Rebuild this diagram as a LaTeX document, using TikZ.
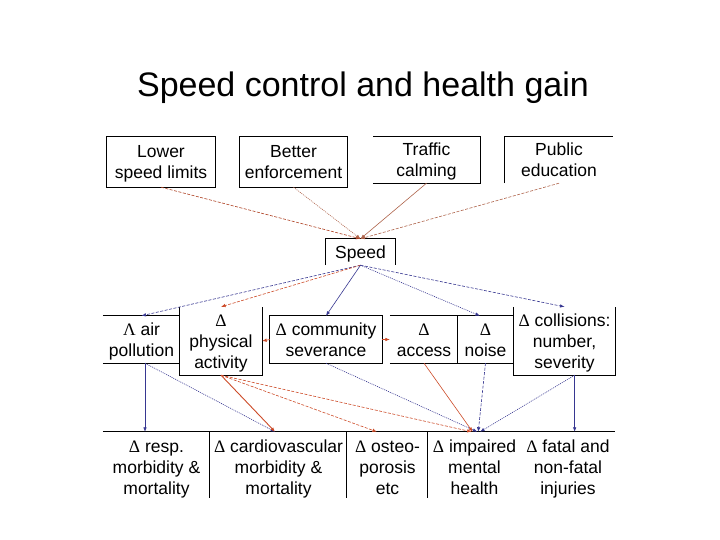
\documentclass[tikz,border=0pt]{standalone}
\usepackage{fontspec}
\setmainfont{Liberation Sans}
\newfontfamily\dserif{Liberation Serif}
\usetikzlibrary{arrows.meta,calc}
\definecolor{ablue}{RGB}{55,55,145}
\definecolor{ared}{RGB}{205,75,40}
\definecolor{abrown}{RGB}{175,100,75}
\newcommand{\dlt}{{\dserif Δ}}
\newcommand{\lmb}{{\dserif Λ}}
\newcommand{\st}{\rule[-4.25pt]{0pt}{21pt}}
\begin{document}
\begin{tikzpicture}[x=1pt,y=-1pt,
  box/.style={rectangle, inner sep=0pt, align=center, font=\fontsize{17.5}{21}\selectfont},
  edge/.style={line width=0.9pt, black},
  arr/.style={line width=0.6pt, -{Latex[length=4.5pt,width=3.5pt]}},
  bl/.style={arr, ablue},
  rd/.style={arr, ared},
  br/.style={arr, abrown},
  dsh/.style={dash pattern=on 3pt off 1.5pt},
  dts/.style={dash pattern=on 1pt off 1pt}]
\useasboundingbox (0,0) rectangle (720,540);
\fill[white] (0,0) rectangle (720,540);

\node[font=\fontsize{34}{40}\selectfont] (title) at (363,88) {Speed control and health gain};

% top row
\node[box, minimum width=108pt, minimum height=50pt] (lower) at (161,162) {\st Lower\\\st speed limits};
\draw[edge] (lower.north west) rectangle (lower.south east);
\node[box, minimum width=107pt, minimum height=50pt] (enforce) at (293.5,162) {\st Better\\\st enforcement};
\draw[edge] (enforce.north west) rectangle (enforce.south east);
\node[box, minimum width=107pt, minimum height=46pt] (calming) at (426.5,160) {\st Traffic\\\st calming};
\draw[edge] (calming.south west) -- (calming.south east) -- (calming.north east) -- (calming.north west);
\node[box, minimum width=108pt, minimum height=46pt] (educ) at (559,160) {\st Public\\\st education};
\draw[edge] (educ.south west) -- (educ.north west) -- (educ.north east);

% speed
\node[box, minimum width=69pt, minimum height=26pt] (speed) at (360.5,252) {\st Speed};
\draw[edge] (speed.south west) -- (speed.north west) -- (speed.north east) -- (speed.south east);

% middle row
\node[box, minimum width=77pt, minimum height=47pt] (air) at (141.5,339.5) {\st\lmb{} air\\\st pollution};
\draw[edge] (air.north west) -- (air.north east) (air.south west) -- (air.south east);
\node[box, minimum width=82pt, minimum height=68pt] (phys) at (221,341) {\st\dlt\\\st physical\\\st activity};
\draw[edge] (phys.north west) -- (phys.south west) -- (phys.south east) -- (phys.north east);
\node[box, minimum width=112pt, minimum height=47pt] (comm) at (326,339.5) {\st\dlt{} community\\\st severance};
\draw[edge] (comm.north west) rectangle (comm.south east);
\node[box, minimum width=68pt, minimum height=47pt] (access) at (424,339.5) {\st\dlt\\\st access};
\draw[edge] (access.north west) -- (access.north east) (access.south west) -- (access.south east);
\node[box, minimum width=55pt, minimum height=47pt] (noise) at (485.5,339.5) {\st\dlt\\\st noise};
\draw[edge] (noise.north west) -- (noise.north east) (noise.south west) -- (noise.south east) (noise.north west) -- (noise.south west);
\node[box, minimum width=101pt, minimum height=68pt] (coll) at (564.5,341) {\st\dlt{} collisions:\\\st number,\\\st severity};
\draw[edge] (coll.north west) -- (coll.south west) -- (coll.south east) -- (coll.north east);

% bottom row
\node[box, minimum width=107pt, minimum height=70pt] (resp) at (156.5,467) {\st\dlt{} resp.\\\st morbidity \&\\\st mortality};
\node[box, minimum width=137pt, minimum height=70pt] (cardio) at (278.5,467) {\st\dlt{} cardiovascular\\\st morbidity \&\\\st mortality};
\node[box, minimum width=81pt, minimum height=70pt] (osteo) at (387.5,467) {\st\dlt{} osteo-\\\st porosis\\\st etc};
\node[box, minimum width=93pt, minimum height=70pt] (mental) at (474.5,467) {\st\dlt{} impaired\\\st mental\\\st health};
\node[box, minimum width=94pt, minimum height=70pt] (fatal) at (568,467) {\st\dlt{} fatal and\\\st non-fatal\\\st injuries};
\draw[edge] (resp.north west) -- (fatal.north east);
\draw[edge] (cardio.north west) -- ++(0,66)
            (osteo.north west) -- ++(0,66)
            (mental.north west) -- ++(0,66);

% top -> speed
\draw[br, dsh, ared!85!black] (lower.south) -- (speed.north);
\draw[br, dts] (enforce.south) -- (speed.north);
\draw[br] (calming.south) -- (speed.north);
\draw[br, dsh] (educ.south) -- (speed.north);

% speed -> middle
\draw[bl, dsh] (speed.south) -- (air.north);
\draw[rd, dsh] (speed.south) -- (phys.north);
\draw[bl] (speed.south) -- (comm.north);
\draw[bl, dts] (speed.south) -- ($(noise.north west)!0.4!(noise.north east)$);
\draw[bl, dsh] (speed.south) -- (coll.north);

% severance sideways
\draw[rd] (comm.west) -- (phys.east);
\draw[rd] (comm.east) -- (access.west);

% middle -> bottom
\coordinate (airb) at ($(air.south)+(3.5,0)$);
\coordinate (collb) at ($(coll.south west)!0.6!(coll.south east)$);
\draw[bl] (airb) -- (airb |- resp.north);
\draw[bl, dts] (airb) -- ($(cardio.north west)!0.475!(cardio.north east)$);
\draw[rd, line width=0.9pt] (phys.south) -- ($(cardio.north west)!0.475!(cardio.north east)$);
\draw[rd, dsh] (phys.south) -- ($(osteo.north west)!0.37!(osteo.north east)$);
\draw[rd, dsh] (phys.south) -- ($(mental.north west)!0.47!(mental.north east)$);
\draw[bl, dts] (comm.south) -- ($(mental.north west)!0.53!(mental.north east)$);
\draw[rd] (access.south) -- ($(mental.north west)!0.48!(mental.north east)$);
\draw[bl, dsh] (noise.south) -- ($(mental.north west)!0.54!(mental.north east)$);
\draw[bl, dts] (collb) -- ($(mental.north west)!0.56!(mental.north east)$);
\draw[bl] (collb) -- (collb |- fatal.north);
\end{tikzpicture}
\end{document}
